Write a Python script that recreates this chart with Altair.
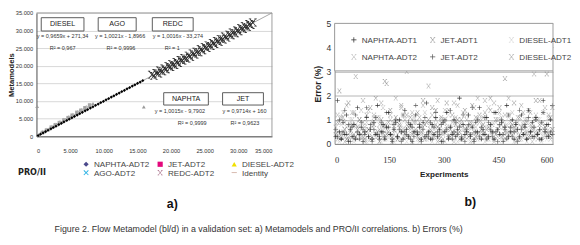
import altair as alt
import pandas as pd

# ================= panel a) : Metamodels vs PRO/II =================
series_a = ["NAPHTA-ADT2", "JET-ADT2", "DIESEL-ADT2", "AGO-ADT2", "REDC-ADT2", "Identity"]

naphta_pro = [250, 600, 980, 1350, 1720, 2150, 2500, 2900, 3320, 3700, 4080, 4500, 4870, 5260,
              5640, 6050, 6430, 6820, 7230, 7600, 8010, 8390, 8780, 9170, 9560, 9950, 10340,
              10730, 11120, 11510, 11900, 12290, 12680, 13070, 13460, 13850, 14240, 14630,
              15020, 15410, 15800]
naphta_meta = [240, 590, 990, 1340, 1730, 2140, 2510, 2890, 3330, 3690, 4090, 4490, 4880, 5250,
               5650, 6040, 6440, 6810, 7240, 7590, 8020, 8380, 8790, 9160, 9570, 9940, 10350,
               10720, 11130, 11500, 11910, 12280, 12690, 13060, 13470, 13840, 14250, 14620,
               15030, 15400, 15810]
jet_pro = [900, 1500, 2200, 2800, 3400, 4100, 4700, 5300, 6000, 6600, 7200, 7900]
jet_meta = [1100, 1800, 2600, 3300, 3900, 4700, 5300, 6000, 6800, 7400, 8100, 8900]
diesel_pro = [600, 1300, 1900, 2600, 3300, 3900, 4600, 5200, 5900, 6500, 7200, 7800, 8400, 15950, 100]
diesel_meta = [900, 1600, 2200, 3000, 3700, 4400, 5100, 5800, 6500, 7200, 8000, 8600, 9300, 8350, 8500]
ago_pro = [400, 1100, 1700, 2400, 3000, 3700, 4300, 5000, 5600, 6300, 6900, 7600]
ago_meta = [500, 1300, 1900, 2700, 3300, 4100, 4700, 5500, 6100, 6900, 7500, 8300]
redc_pro = [17150, 17450, 17800, 18100, 18350, 18700, 19000, 19250, 19600, 19900, 20150, 20500,
            20800, 21050, 21400, 21700, 21950, 22300, 22600, 22850, 23200, 23500, 23750, 24100,
            24400, 24650, 25000, 25300, 25550, 25900, 26200, 26450, 26800, 27100, 27350, 27700,
            28000, 28250, 28600, 28900, 29150, 29500, 29800, 30050, 30400, 30700, 30950, 31300,
            31600, 31850, 32150]
redc_meta = [17500, 17150, 18000, 17850, 18650, 18450, 19250, 19000, 19900, 19650, 20450, 20250,
             21100, 20800, 21650, 21500, 22200, 22050, 22900, 22600, 23500, 23200, 24000, 23850,
             24700, 24400, 25300, 25050, 25800, 25650, 26500, 26200, 27050, 26850, 27650, 27450,
             28300, 28000, 28850, 28650, 29450, 29250, 30050, 29800, 30650, 30450, 31200, 31050,
             31850, 31600, 32300]
identity_pro = [0, 35000]
identity_meta = [0, 35000]
ticks_a = [0, 5000, 10000, 15000, 20000, 25000, 30000, 35000]
frame_a_max = [35000]

fit_names = ["DIESEL", "AGO", "REDC", "NAPHTA", "JET"]
fit_eq = ["y = 0,9659x + 271,34", "y = 1,0021x - 1,8966", "y = 1,0016x - 33,274",
          "y = 1,0015x - 9,7902", "y = 0,9714x + 160"]
fit_r2 = ["R\u00b2 = 0,967", "R\u00b2 = 0,9996", "R\u00b2 = 1", "R\u00b2 = 0,9999", "R\u00b2 = 0,9623"]

# annotation geometry (data units of panel a)
box_x1 = [706, 9173, 17218, 18911, 27662]
box_x2 = [7056, 14819, 23287, 25545, 33730]
box_y1 = [29880, 29880, 29880, 8885, 8885]
box_y2 = [33650, 33650, 33650, 12385, 12385]
eq_x = [3881, 12420, 21030, 21310, 30907]
eq_y = [28540, 28540, 28540, 7270, 7270]
r2_x = [3881, 12560, 20180, 23145, 30977]
r2_y = [25040, 25040, 25040, 3770, 3770]

# ================= panel b) : Errors =================
series_b = ["NAPHTA-ADT1", "JET-ADT1", "DIESEL-ADT1", "NAPHTA-ADT2", "JET-ADT2", "DIESEL-ADT2"]
experiments = list(range(3, 600, 5))
err_naphta1 = [0.3, 1.8, 0.5, 0.2, 0.9, 0.4, 1.2, 0.1, 0.6, 0.3, 0.8, 0.2, 1.5, 0.4, 0.7, 0.1, 0.5, 1.1, 0.3, 0.6,
               0.2, 0.9, 0.4, 1.6, 0.3, 0.5, 0.8, 0.2, 0.7, 1.3, 0.4, 0.1, 0.6, 0.9, 0.3, 1.0, 0.5, 0.2, 1.4, 0.6,
               0.3, 0.8, 0.1, 0.5, 1.2, 0.4, 0.7, 0.2, 0.9, 0.3, 1.7, 0.5, 0.2, 0.8, 0.4, 1.1, 0.3, 0.6, 0.1, 0.9,
               0.5, 1.3, 0.2, 0.7, 0.4, 1.0, 0.3, 0.6, 1.9, 0.2, 0.8, 0.4, 0.5, 1.2, 0.3, 0.7, 0.1, 0.9, 0.5, 1.5,
               0.2, 0.6, 0.4, 1.1, 0.3, 0.8, 0.5, 0.2, 1.3, 0.6, 0.4, 0.9, 0.1, 0.7, 1.6, 0.3, 0.5, 1.0, 0.2, 0.8,
               0.6, 0.3, 1.2, 0.4, 0.7, 0.2, 1.4, 0.5, 0.9, 0.3, 1.1, 0.4, 0.6, 0.2, 1.8, 0.5, 0.8, 0.3, 1.0, 0.4]
err_jet1 = [0.4, 0.9, 2.2, 0.3, 1.1, 0.6, 0.2, 1.7, 0.5, 0.8, 1.3, 0.3, 0.7, 1.0, 0.4, 0.9, 0.2, 1.2, 0.6, 1.5,
            0.3, 0.8, 1.9, 0.5, 0.1, 1.0, 0.7, 2.6, 0.4, 0.9, 1.4, 0.3, 0.6, 1.1, 0.2, 0.8, 1.6, 0.5, 0.3, 1.2,
            0.7, 1.1, 0.4, 0.9, 0.6, 1.3, 0.2, 0.5, 1.8, 0.8, 0.3, 1.0, 0.6, 1.5, 0.4, 1.4, 0.7, 0.2, 1.1, 0.5,
            0.9, 1.7, 0.3, 0.6, 1.2, 0.4, 0.8, 1.0, 0.5, 1.0, 0.2, 1.4, 0.7, 0.3, 0.9, 1.6, 0.5, 1.1, 0.4, 1.2,
            0.6, 0.8, 1.3, 0.3, 0.7, 1.9, 0.5, 0.2, 1.0, 0.6, 1.5, 0.4, 0.9, 2.7, 0.3, 1.2, 0.6, 0.8, 1.7, 0.5,
            0.2, 1.1, 0.7, 1.3, 0.4, 0.9, 1.4, 0.3, 0.6, 1.0, 1.8, 0.5, 0.8, 0.2, 1.3, 0.7, 2.9, 0.4, 1.1, 0.6]
err_diesel1 = [0.2, 0.5, 0.1, 0.8, 0.3, 0.6, 0.2, 0.4, 1.0, 0.3, 0.1, 0.7, 0.4, 0.2, 0.9, 0.5, 0.3, 0.1, 0.6, 0.4,
               0.8, 0.2, 0.5, 0.3, 1.1, 0.1, 0.4, 0.7, 0.2, 0.6, 0.3, 0.9, 0.1, 0.5, 0.4, 0.2, 0.8, 0.3, 0.6, 0.1,
               0.4, 0.7, 0.2, 1.0, 0.5, 0.3, 0.1, 0.6, 0.4, 0.2, 0.9, 0.3, 0.5, 0.1, 0.7, 0.4, 0.2, 0.8, 0.3, 0.6,
               0.1, 0.5, 1.2, 0.3, 0.4, 0.2, 0.7, 0.1, 0.5, 0.9, 0.3, 0.6, 0.2, 0.4, 0.8, 0.1, 0.5, 0.3, 1.0, 0.2,
               0.6, 0.4, 0.1, 0.7, 0.3, 0.5, 0.9, 0.2, 0.4, 0.6, 0.1, 0.8, 0.3, 0.5, 0.2, 1.1, 0.4, 0.6, 0.1, 0.3,
               0.7, 0.2, 0.5, 0.9, 0.3, 0.1, 0.6, 0.4, 0.8, 0.2, 0.5, 0.3, 1.0, 0.1, 0.4, 0.7, 0.2, 0.6, 0.3, 0.5]
err_naphta2 = [0.5, 0.2, 0.9, 0.4, 1.3, 0.1, 0.7, 0.3, 0.6, 1.0, 0.2, 0.8, 0.4, 0.5, 1.4, 0.3, 0.1, 0.9, 0.6, 0.2,
               0.7, 1.1, 0.4, 0.3, 0.8, 0.5, 1.5, 0.2, 0.6, 0.4, 1.0, 0.1, 0.7, 0.3, 0.9, 0.5, 0.2, 1.2, 0.4, 0.8,
               0.3, 0.6, 0.1, 1.1, 0.5, 0.2, 0.9, 0.4, 0.7, 1.3, 0.2, 0.5, 0.8, 0.3, 0.6, 1.0, 0.1, 0.4, 0.9, 0.2,
               1.4, 0.6, 0.3, 0.7, 0.5, 0.1, 1.1, 0.4, 0.2, 0.8, 0.6, 0.3, 1.2, 0.5, 0.1, 0.9, 0.4, 0.7, 0.2, 1.0,
               0.3, 0.8, 0.5, 0.2, 1.5, 0.6, 0.4, 0.1, 0.9, 0.3, 0.7, 1.1, 0.2, 0.5, 0.8, 0.4, 0.3, 1.3, 0.6, 0.1,
               0.9, 0.4, 0.2, 0.7, 1.0, 0.5, 0.3, 0.8, 0.1, 0.6, 1.2, 0.2, 0.5, 0.9, 0.3, 0.7, 0.4, 1.1, 0.2, 0.6]
err_jet2 = [0.6, 0.3, 1.0, 0.2, 0.5, 1.4, 0.4, 0.8, 0.1, 0.7, 0.3, 1.2, 0.5, 0.2, 0.9, 0.6, 0.4, 1.5, 0.3, 0.8,
            0.1, 0.6, 1.1, 0.4, 0.2, 0.9, 0.5, 0.3, 1.3, 0.7, 0.4, 0.2, 0.8, 1.0, 0.3, 0.6, 0.1, 1.2, 0.5, 0.4,
            0.9, 0.2, 0.7, 0.3, 1.6, 0.5, 0.8, 0.1, 0.6, 1.1, 0.4, 0.3, 0.9, 0.2, 0.7, 1.3, 0.5, 0.4, 0.8, 0.1,
            1.0, 0.6, 0.3, 1.4, 0.2, 0.5, 0.9, 0.4, 0.7, 0.3, 1.2, 0.1, 0.6, 0.8, 0.4, 1.5, 0.2, 0.5, 1.0, 0.3,
            0.7, 0.4, 1.1, 0.2, 0.9, 0.6, 0.3, 1.3, 0.5, 0.1, 0.8, 1.0, 0.4, 0.6, 0.2, 1.2, 0.7, 0.3, 0.5, 0.9,
            0.1, 1.4, 0.6, 0.4, 0.8, 0.2, 1.1, 0.5, 0.3, 0.7, 1.0, 0.4, 0.2, 0.9, 1.3, 0.6, 0.3, 0.8, 0.5, 1.6]
err_diesel2 = [0.7, 1.2, 0.3, 1.1, 0.5, 0.9, 1.6, 0.2, 0.8, 1.3, 0.4, 2.8, 0.6, 1.0, 0.3, 1.8, 0.7, 0.5, 1.4, 0.2,
               0.9, 1.2, 0.4, 1.1, 0.6, 1.7, 0.3, 0.8, 2.5, 0.5, 1.2, 0.4, 0.9, 1.9, 0.2, 0.7, 1.5, 0.6, 1.0, 3.0,
               0.3, 0.8, 1.3, 0.5, 0.9, 0.4, 1.1, 0.7, 1.6, 0.2, 0.9, 2.4, 0.5, 1.2, 0.3, 0.8, 1.8, 0.6, 1.0, 0.4,
               1.0, 0.7, 1.4, 0.3, 0.9, 1.7, 0.5, 1.6, 0.8, 0.2, 1.3, 0.6, 1.0, 0.7, 0.4, 0.7, 1.5, 0.3, 1.9, 0.9,
               0.5, 1.1, 1.8, 0.6, 0.2, 1.4, 0.8, 1.7, 0.4, 1.0, 1.3, 0.3, 0.7, 1.2, 0.5, 1.9, 0.9, 0.4, 0.7, 0.6,
               1.1, 0.2, 1.6, 0.8, 0.5, 1.0, 0.3, 1.3, 0.7, 2.9, 0.4, 1.0, 1.8, 0.6, 0.9, 1.5, 0.5, 1.2, 0.3, 1.5]
ticks_bx = [0, 150, 300, 450, 600]
ticks_by = [0, 1, 2, 3, 4, 5]
legend_box_exp = [0, 600]
legend_box_err = [3.03, 5]
frame_exp = [600]
frame_err = [0, 3.03]

caption = ("Figure 2. Flow Metamodel (bl/d) in a validation set: a) Metamodels and PRO/II "
           "correlations. b) Errors (%)")

# ================= styles =================
SANS = "Liberation Sans"
X_SHAPE = "M-1,-0.75L-0.75,-1L0,-0.25L0.75,-1L1,-0.75L0.25,0L1,0.75L0.75,1L0,0.25L-0.75,1L-1,0.75L-0.25,0Z"
XS_SHAPE = ("M-0.8,-0.85L-0.6,-0.85L0,-0.15L0.6,-0.85L0.8,-0.85L0.12,0L0.8,0.85L0.6,0.85L0,0.15"
            "L-0.6,0.85L-0.8,0.85L-0.12,0Z M-1,-1L-0.4,-1L-0.4,-0.82L-1,-0.82Z M0.4,-1L1,-1L1,-0.82L0.4,-0.82Z"
            " M-1,0.82L-0.4,0.82L-0.4,1L-1,1Z M0.4,0.82L1,0.82L1,1L0.4,1Z")
PLUS_SHAPE = ("M-0.14,-1L0.14,-1L0.14,-0.14L1,-0.14L1,0.14L0.14,0.14L0.14,1L-0.14,1L-0.14,0.14"
              "L-1,0.14L-1,-0.14L-0.14,-0.14Z")
LINE_SHAPE = "M-1,-0.14L1,-0.14L1,0.14L-1,0.14Z"

shapes_a = ["diamond", "square", "triangle-up", X_SHAPE, XS_SHAPE, LINE_SHAPE]
legend_colors_a = ["#4c4a8c", "#e3087c", "#f0e000", "#2bb2e4", "#a0627e", "#c8a092"]
plot_style_a = {
    "JET-ADT2": ("square", "#a8a8a8", 14),
    "DIESEL-ADT2": ("triangle-up", "#9a9a9a", 16),
    "AGO-ADT2": (X_SHAPE, "#b8b8b8", 18),
    "NAPHTA-ADT2": ("diamond", "#000000", 11),
    "REDC-ADT2": (XS_SHAPE, "#262626", 70),
}

shapes_b = [PLUS_SHAPE, XS_SHAPE, XS_SHAPE, XS_SHAPE, PLUS_SHAPE, XS_SHAPE]
grays_b = ["#2a2a2a", "#8a8a8a", "#cfcfcf", "#b2b2b2", "#5a5a5a", "#9e9e9e"]

# ================= tables =================
rows = []
for name, xs, ys in [("NAPHTA-ADT2", naphta_pro, naphta_meta), ("JET-ADT2", jet_pro, jet_meta),
                     ("DIESEL-ADT2", diesel_pro, diesel_meta), ("AGO-ADT2", ago_pro, ago_meta),
                     ("REDC-ADT2", redc_pro, redc_meta)]:
    for a, b in zip(xs, ys):
        rows.append({"series": name, "pro": a, "meta": b})
df_a = pd.DataFrame(rows)
df_ident = pd.DataFrame({"pro": identity_pro, "meta": identity_meta})
df_box = pd.DataFrame({
    "name": fit_names, "bx1": box_x1, "bx2": box_x2, "by1": box_y1, "by2": box_y2,
    "bxc": [(a + b) / 2 for a, b in zip(box_x1, box_x2)],
    "byc": [(a + b) / 2 for a, b in zip(box_y1, box_y2)],
    "eq": fit_eq, "ex": eq_x, "ey": eq_y, "r2": fit_r2, "rx": r2_x, "ry": r2_y,
})
df_frame_a = pd.DataFrame({"lo": [ticks_a[0]], "hi": frame_a_max})

rows = []
order_b = [("DIESEL-ADT1", err_diesel1), ("NAPHTA-ADT2", err_naphta2), ("DIESEL-ADT2", err_diesel2),
           ("JET-ADT1", err_jet1), ("JET-ADT2", err_jet2), ("NAPHTA-ADT1", err_naphta1)]
for name, vals in order_b:
    for e, v in zip(experiments, vals):
        rows.append({"series": name, "exp": e, "err": v})
df_b = pd.DataFrame(rows)
df_lbox = pd.DataFrame({"x1": [legend_box_exp[0]], "x2": [legend_box_exp[1]],
                        "y1": [legend_box_err[0]], "y2": [legend_box_err[1]]})
df_frame = pd.DataFrame({"fx": frame_exp, "fy1": [frame_err[0]], "fy2": [frame_err[1]]})

# ================= panel a chart =================
fmt = "replace(format(datum.value, ','), ',', '.')"
sx_a = alt.Scale(domain=[0, 35000], nice=False)
sy_a = alt.Scale(domain=[0, 35000], nice=False, range=[130, 0])
ax_xa = alt.Axis(values=ticks_a, labelExpr=fmt, grid=False, ticks=False, labelFont=SANS,
                 labelFontSize=6, labelColor="#333", labelPadding=12, domainColor="#444",
                 offset=-8,
                 titleFont="DejaVu Sans", titleFontWeight="bold", titleFontSize=8.5, titleColor="#222",
                 titleX=-20, titleY=37, titleAlign="left", titleBaseline="middle")
ax_ya = alt.Axis(values=ticks_a, labelExpr=fmt, grid=True, gridColor="#cccccc", gridWidth=0.8,
                 ticks=False, labelFont=SANS, labelFontSize=6, labelColor="#333", labelPadding=4,
                 domainColor="#444", titleFont=SANS, titleFontWeight="bold", titleFontSize=8,
                 titleColor="#222", titleX=-26, titleY=65, titleBaseline="middle")


def xa(f):
    return alt.X(f, type="quantitative", scale=sx_a, axis=ax_xa, title="PRO/II")


def ya(f):
    return alt.Y(f, type="quantitative", scale=sy_a, axis=ax_ya, title="Metamodels")


legend_a = alt.Legend(orient="none", legendX=48, legendY=155, columns=3, direction="horizontal",
                      title=None, labelFont=SANS, labelFontSize=8.5, labelColor="#444",
                      symbolSize=30, labelOffset=4, columnPadding=7, rowPadding=0,
                      gridAlign="all", padding=0, symbolStrokeWidth=0)

ident = alt.Chart(df_ident).mark_line(color="#8c8c8c", strokeWidth=0.8).encode(x=xa("pro"), y=ya("meta"))
series_layers = []
for name, (shp, col, sz) in plot_style_a.items():
    series_layers.append(
        alt.Chart(df_a).transform_filter(alt.datum.series == name).mark_point(
            filled=True, shape=shp, fill=col, size=sz, strokeWidth=0, opacity=1
        ).encode(x=xa("pro"), y=ya("meta"))
    )
leg_layer = alt.Chart(df_a).transform_filter("false").mark_point(
    filled=True, size=30, strokeWidth=0, opacity=1).encode(
    x=xa("pro"), y=ya("meta"),
    color=alt.Color("series:N", scale=alt.Scale(domain=series_a, range=legend_colors_a), legend=legend_a),
    shape=alt.Shape("series:N", scale=alt.Scale(domain=series_a, range=shapes_a), legend=legend_a),
)
boxes = alt.Chart(df_box).mark_rect(fill="white", stroke="#555", strokeWidth=1).encode(
    x=xa("bx1"), x2="bx2", y=ya("by1"), y2="by2")
box_txt = alt.Chart(df_box).mark_text(font=SANS, fontSize=7.5, color="#222").encode(
    x=xa("bxc"), y=ya("byc"), text="name:N")
eq_txt = alt.Chart(df_box).mark_text(font=SANS, fontSize=5.8, color="#333").encode(
    x=xa("ex"), y=ya("ey"), text="eq:N")
r2_txt = alt.Chart(df_box).mark_text(font=SANS, fontSize=5.8, color="#333").encode(
    x=xa("rx"), y=ya("ry"), text="r2:N")
frame_top = alt.Chart(df_frame_a).mark_rule(color="#999", strokeWidth=1).encode(
    x=xa("lo"), x2="hi", y=ya("hi"))
frame_right = alt.Chart(df_frame_a).mark_rule(color="#999", strokeWidth=1).encode(
    x=xa("hi"), y=ya("lo"), y2="hi")

left = alt.layer(ident, *series_layers, leg_layer, boxes, box_txt, eq_txt, r2_txt,
                 frame_top, frame_right).properties(
    width=248, height=138, view=alt.ViewBackground(stroke=None),
    title=alt.TitleParams("a)", orient="bottom", anchor="middle", frame="group", dx=19, offset=22,
                          fontSize=13, font=SANS, fontWeight="bold", color="#111"))

# ================= panel b chart =================
sx_b = alt.Scale(domain=[0, 600], nice=False)
sy_b = alt.Scale(domain=[0, 5], nice=False, range=[138, 11])
ax_xb = alt.Axis(values=ticks_bx, grid=False, ticks=False, labelFont="Liberation Serif",
                 labelFontSize=9, labelColor="#333", labelPadding=13, domainColor="#888",
                 titleFont=SANS, titleFontWeight="bold", titleFontSize=8.5,
                 titleColor="#222", titlePadding=5)
ax_yb = alt.Axis(values=ticks_by, grid=True, gridColor="#a0a0a0", gridWidth=0.8, ticks=False,
                 labelFont=SANS, labelFontSize=9, labelColor="#333", labelPadding=4,
                 domainColor="#888", titleFont=SANS, titleFontWeight="bold",
                 titleFontSize=9, titleColor="#222", titlePadding=4)


def xb(f):
    return alt.X(f, type="quantitative", scale=sx_b, axis=ax_xb, title="Experiments")


def yb(f):
    return alt.Y(f, type="quantitative", scale=sy_b, axis=ax_yb, title="Error (%)")


legend_b = alt.Legend(orient="none", legendX=16, legendY=24, columns=3, direction="horizontal",
                      title=None, labelFont=SANS, labelFontSize=8.5, labelColor="#444",
                      symbolSize=30, labelOffset=4, columnPadding=12, rowPadding=9,
                      gridAlign="all", padding=0, symbolStrokeWidth=0)

points_b = alt.Chart(df_b).mark_point(filled=True, size=22, strokeWidth=0, opacity=1).encode(
    x=xb("exp"), y=yb("err"),
    color=alt.Color("series:N", scale=alt.Scale(domain=series_b, range=grays_b), legend=legend_b),
    shape=alt.Shape("series:N", scale=alt.Scale(domain=series_b, range=shapes_b), legend=legend_b),
)
lbox = alt.Chart(df_lbox).mark_rect(fill="white", stroke="#999", strokeWidth=1).encode(
    x=xb("x1"), x2="x2", y=yb("y1"), y2="y2")
frame = alt.Chart(df_frame).mark_rule(color="#999", strokeWidth=1).encode(
    x=xb("fx"), y=yb("fy1"), y2="fy2")

right = alt.layer(points_b, lbox, frame).properties(
    width=230, height=138, view=alt.ViewBackground(stroke=None),
    title=alt.TitleParams("b)", orient="bottom", anchor="middle", frame="group", dx=28, offset=20,
                          fontSize=13, font=SANS, fontWeight="bold", color="#111"))

chart = alt.hconcat(left, right, spacing=19).properties(
    padding={"top": -4, "left": 0, "right": 0, "bottom": 0},
    title=alt.TitleParams(caption, orient="bottom", anchor="middle", dx=-33, offset=16,
                          fontSize=9.3, font=SANS, fontWeight="normal", color="#333"),
).resolve_scale(
    color="independent", shape="independent", x="independent", y="independent",
).resolve_legend(color="independent", shape="independent")

chart.save("out.html", embed_options={"renderer": "svg", "actions": False})
